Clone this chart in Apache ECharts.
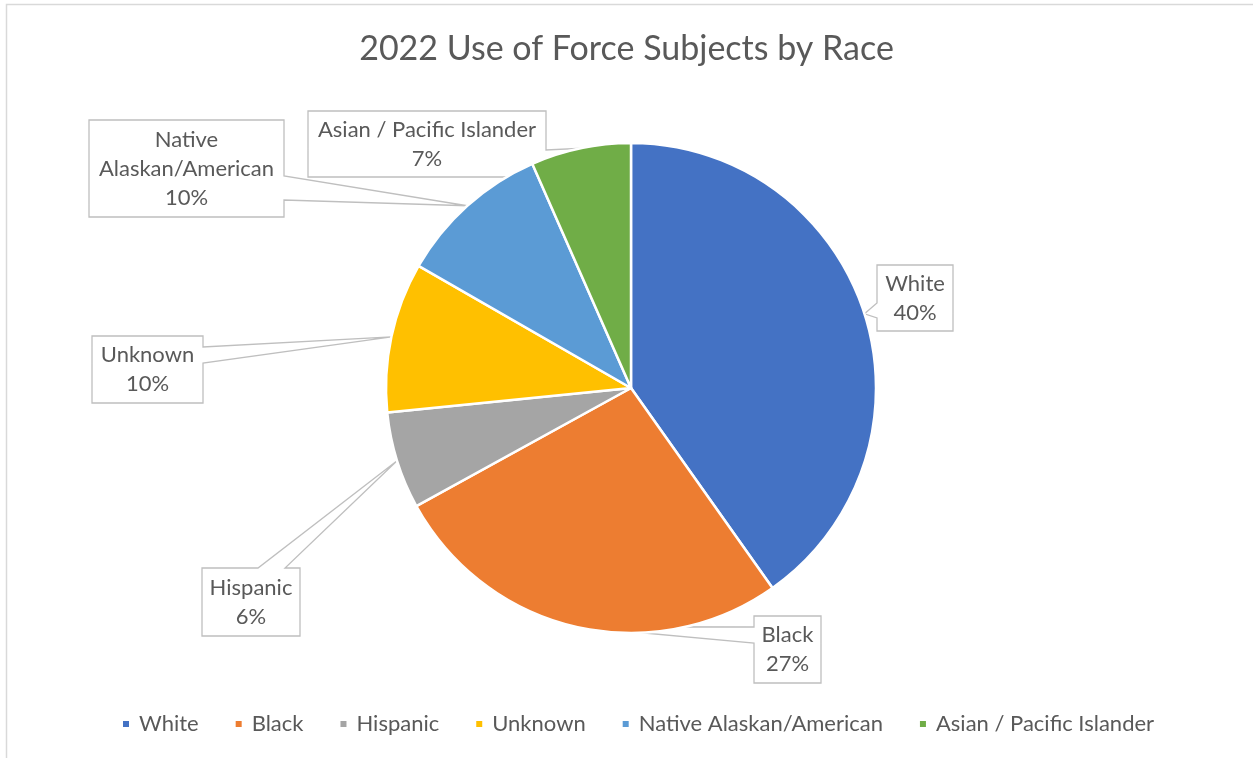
<!DOCTYPE html>
<html>
<head>
<meta charset="utf-8">
<script src="https://cdn.jsdelivr.net/npm/echarts@6/dist/echarts.min.js"></script>
<style>
  html, body { margin: 0; padding: 0; background: #ffffff; }
  #chart { width: 1253px; height: 758px; }
</style>
</head>
<body>
<div id="chart"></div>
<script>
// Use of force subjects, 2022, share by race
const categories = ['White', 'Black', 'Hispanic', 'Unknown', 'Native Alaskan/American', 'Asian / Pacific Islander'];
const shares = [40.2, 26.8, 6.4, 9.9, 10.1, 6.6];
const labelNames = ['White', 'Black', 'Hispanic', 'Unknown', 'Native\nAlaskan/American', 'Asian / Pacific Islander'];
const colors = ['#4472C4', '#ED7D31', '#A5A5A5', '#FFC000', '#5B9BD5', '#70AD47'];

// Callout boxes: [left, top, right, bottom], the side the pointer leaves from,
// and where along that side the pointer's base starts and ends.
const callouts = [
  { box: [877, 265, 953, 331], side: 'left',  base: [303, 318] },
  { box: [754, 616, 821, 683], side: 'left',  base: [627, 643] },
  { box: [202, 568, 300, 636], side: 'top',   base: [258, 285] },
  { box: [92, 336, 203, 403],  side: 'right', base: [347, 363] },
  { box: [89, 120, 284, 217],  side: 'right', base: [176, 200] },
  { box: [308, 111, 546, 177], side: 'right', base: [150, 168] }
];

const FONT = 'Lato, "Open Sans", sans-serif';
const TEXT = '#595959';

const chart = echarts.init(document.getElementById('chart'), null, { renderer: 'canvas' });

const option = {
  backgroundColor: '#ffffff',
  animation: false,
  color: colors,
  title: {
    text: '2022 Use of Force Subjects by Race',
    left: 'center',
    top: 27,
    padding: [5, 5, 5, 14],
    textStyle: { fontFamily: FONT, fontSize: 34, fontWeight: 'normal', color: TEXT }
  },
  legend: {
    data: categories,
    bottom: 18,
    left: 116,
    icon: 'rect',
    itemWidth: 8,
    itemHeight: 8,
    itemGap: 35,
    textStyle: { fontFamily: FONT, fontSize: 22, color: TEXT, padding: [0, 0, 0, 4] }
  },
  series: [{
    type: 'pie',
    center: [631, 388],
    radius: 245,
    startAngle: 90,
    clockwise: true,
    percentPrecision: 0,
    avoidLabelOverlap: false,
    itemStyle: { borderColor: '#ffffff', borderWidth: 2.5 },
    emphasis: { disabled: true },
    label: {
      show: true,
      position: 'outside',
      formatter: p => labelNames[p.dataIndex] + '\n' + p.percent + '%',
      fontFamily: FONT,
      fontSize: 22,
      lineHeight: 29,
      color: TEXT,
      align: 'center'
    },
    labelLine: { show: false },
    labelLayout: params => {
      const b = callouts[params.dataIndex].box;
      return {
        x: (b[0] + b[2]) / 2,
        y: (b[1] + b[3]) / 2,
        align: 'center',
        verticalAlign: 'middle'
      };
    },
    data: categories.map((name, i) => ({ name, value: shares[i] }))
  }]
};

chart.setOption(option);

// Callout outlines: a box with a pointer whose tip sits on the arc at the slice's mid-angle.
function calloutShape(c, tip) {
  const [l, t, r, b] = c.box;
  const [s, e] = c.base;
  let pts;
  if (c.side === 'top') {
    pts = [[l, t], [s, t], tip, [e, t], [r, t], [r, b], [l, b]];
  } else if (c.side === 'right') {
    pts = [[l, t], [r, t], [r, s], tip, [r, e], [r, b], [l, b]];
  } else if (c.side === 'bottom') {
    pts = [[l, t], [r, t], [r, b], [e, b], tip, [s, b], [l, b]];
  } else {
    pts = [[l, t], [r, t], [r, b], [l, b], [l, e], tip, [l, s]];
  }
  return pts;
}

function drawCallouts() {
  const data = chart.getModel().getSeriesByIndex(0).getData();
  const shapes = callouts.map((c, i) => {
    const lay = data.getItemLayout(i);
    const mid = (lay.startAngle + lay.endAngle) / 2;
    const tip = [lay.cx + lay.r * Math.cos(mid), lay.cy + lay.r * Math.sin(mid)];
    return {
      type: 'polygon',
      z: 1,
      silent: true,
      shape: { points: calloutShape(c, tip) },
      style: { fill: '#ffffff', stroke: '#BFBFBF', lineWidth: 1.3 }
    };
  });
  // Chart-area frame
  shapes.unshift({
    type: 'rect',
    z: 0,
    silent: true,
    shape: { x: 6.5, y: 4.5, width: 1400, height: 900 },
    style: { fill: 'none', stroke: '#D9D9D9', lineWidth: 1.5 }
  });
  chart.setOption({ graphic: { elements: shapes } });
}

drawCallouts();
</script>
</body>
</html>
